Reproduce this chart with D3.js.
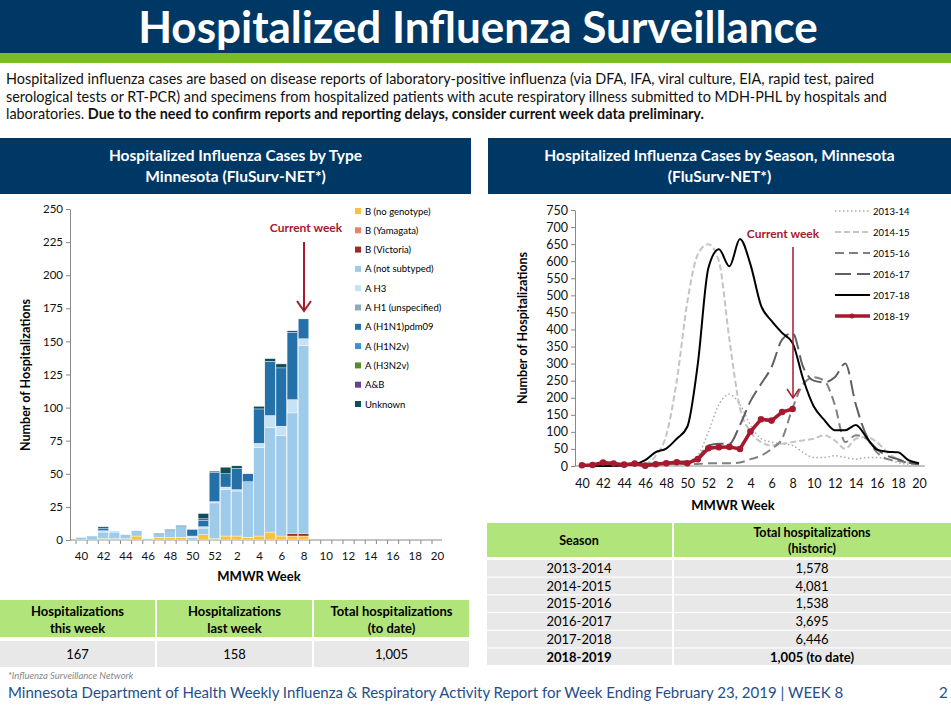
<!DOCTYPE html>
<html>
<head>
<meta charset="utf-8">
<script src="https://d3js.org/d3.v7.min.js"></script>
<style>
  body { margin: 0; background: #fff; font-family: Lato, "Open Sans", sans-serif; }
  svg text { font-family: Lato, "Open Sans", sans-serif; }
</style>
</head>
<body>
<script>
// ---- data ----
var weeks = [40,41,42,43,44,45,46,47,48,49,50,51,52,1,2,3,4,5,6,7,8,9,10,11,12,13,14,15,16,17,18,19,20];
var weekTicks = [40,42,44,46,48,50,52,2,4,6,8,10,12,14,16,18,20];

var typeNames = ["B (no genotype)","B (Yamagata)","B (Victoria)","A (not subtyped)","A H3","A H1 (unspecified)","A (H1N1)pdm09","A (H1N2v)","A (H3N2v)","A&B","Unknown"];
var typeColors = ["#f5c342","#e8836a","#9b2a2a","#9dcbe9","#c6e2f5","#8fa9b8","#2470a8","#3d8fd6","#5b8a2e","#6a3d9a","#0d4f58"];
// per-week values (weeks 40..8), one array per type
var bNoGeno   = [0,0,1,1,1,3,0,2,2,2,0,4,1,3,3,2,3,6,3,3,3];
var bYam      = [0,0,0,0,0,0,0,0,0,0,0,0,0,0,0,0,0,0,0,0,0];
var bVic      = [0,0,0,0,0,0,0,0,0,0,0,0,0,0,0,0,0,0,0,2,2];
var aNotSub   = [2,3,5,5,3,4,1,2,5,8,2,5,27,35,34,42,67,79,76,91,142];
var aH3       = [0,0,1,1,0,0,0,0,0,0,1,1,1,2,1,0,3,9,7,10,5];
var aH1       = [0,0,0,0,0,0,0,0,0,0,0,0,0,0,0,0,0,0,0,0,0];
var aPdm      = [0,0,2,0,0,0,0,1,1,1,5,5,22,10,16,6,26,41,44,51,15];
var aH1N2v    = [0,0,0,0,0,0,0,0,0,0,0,0,0,0,0,0,0,0,0,0,0];
var aH3N2v    = [0,0,0,0,0,0,0,0,0,0,0,0,0,0,0,0,0,0,0,0,0];
var aAndB     = [0,0,0,0,0,0,0,0,0,0,0,1,0,0,0,0,0,0,0,0,0];
var unknown   = [0,0,1,0,0,0,0,0,0,0,0,4,1,5,2,0,2,2,3,1,0];
var typeSeries = [bNoGeno,bYam,bVic,aNotSub,aH3,aH1,aPdm,aH1N2v,aH3N2v,aAndB,unknown];

var seasonNames = ["2013-14","2014-15","2015-16","2016-17","2017-18","2018-19"];
var s1314 = [0,0,0,0,0,2,3,3,5,5,10,30,100,180,210,180,120,80,70,65,60,40,25,25,30,25,20,25,25,20,10,5,3];
var s1415 = [0,0,0,0,0,0,5,30,90,250,480,620,650,600,370,170,100,70,60,65,70,75,80,90,75,50,80,85,70,40,20,10,5];
var s1516 = [3,3,3,3,4,4,5,5,5,6,6,6,8,8,8,10,20,30,50,80,170,240,260,250,180,70,90,80,40,20,15,10,5];
var s1617 = [2,2,3,3,4,5,6,8,10,12,15,25,60,65,65,120,190,240,290,370,390,290,250,245,260,300,180,90,50,30,20,10,5];
var s1718 = [0,0,0,0,2,5,17,41,51,80,115,300,580,635,585,665,590,470,425,390,360,255,175,135,105,105,120,85,48,42,40,17,8];
var s1819 = [2,3,10,7,4,7,1,5,8,11,8,20,52,55,56,50,101,137,133,158,167];
var seasonSeries = [s1314,s1415,s1516,s1617,s1718,s1819];

var statHeads = [["Hospitalizations","this week"],["Hospitalizations","last week"],["Total hospitalizations","(to date)"]];
var statVals = ["167","158","1,005"];
var histSeasons = ["2013-2014","2014-2015","2015-2016","2016-2017","2017-2018","2018-2019"];
var histTotals = ["1,578","4,081","1,538","3,695","6,446","1,005 (to date)"];

// ---- page ----
var navy = "#003865", green = "#78be20", tgreen = "#b2e47c", red = "#a6192e";
var svg = d3.select("body").append("svg").attr("width", 951).attr("height", 705);

svg.append("rect").attr("width", 951).attr("height", 53).attr("fill", navy);
svg.append("rect").attr("y", 53).attr("width", 951).attr("height", 10).attr("fill", green);
svg.append("text").attr("x", 478).attr("y", 43).attr("text-anchor", "middle")
  .attr("fill", "#fff").attr("font-size", 44).attr("font-weight", "bold").text("Hospitalized Influenza Surveillance");

var intro = svg.append("g").attr("font-size", 14.4).attr("fill", "#111");
intro.append("text").attr("x", 6).attr("y", 84).text("Hospitalized influenza cases are based on disease reports of laboratory-positive influenza (via DFA, IFA, viral culture, EIA, rapid test, paired");
intro.append("text").attr("x", 6).attr("y", 102).text("serological tests or RT-PCR) and specimens from hospitalized patients with acute respiratory illness submitted to MDH-PHL by hospitals and");
var l3 = intro.append("text").attr("x", 6).attr("y", 119);
l3.append("tspan").text("laboratories. ");
l3.append("tspan").attr("font-weight", "bold").text("Due to the need to confirm reports and reporting delays, consider current week data preliminary.");

function panelHead(x, w, lines) {
  svg.append("rect").attr("x", x).attr("y", 138).attr("width", w).attr("height", 56).attr("fill", navy);
  lines.forEach(function (t, i) {
    svg.append("text").attr("x", x + w / 2).attr("y", 161 + i * 21).attr("text-anchor", "middle")
      .attr("fill", "#fff").attr("font-size", 15.5).attr("font-weight", "bold").text(t);
  });
}
panelHead(0, 471, ["Hospitalized Influenza Cases by Type", "Minnesota (FluSurv-NET*)"]);
panelHead(488, 463, ["Hospitalized Influenza Cases by Season, Minnesota", "(FluSurv-NET*)"]);

// ---- left chart ----
var xL = d3.scaleLinear().domain([0, 32]).range([81, 437]);
var yL = d3.scaleLinear().domain([0, 250]).range([540, 209]);
var gl = svg.append("g").attr("font-size", 11);
var yAx = gl.append("g").attr("transform", "translate(70,0)")
  .call(d3.axisLeft(yL).tickValues(d3.range(0, 251, 25)).tickSize(4).tickSizeOuter(0));
var xAx = gl.append("g").attr("transform", "translate(0,540)")
  .call(d3.axisBottom(xL).tickValues(d3.range(0, 33)).tickSize(4).tickFormat(function (i) { return weekTicks.indexOf(weeks[i]) >= 0 ? weeks[i] : ""; }));
[yAx, xAx].forEach(function (a) {
  a.select(".domain").attr("stroke", "#888");
  a.selectAll(".tick line").attr("stroke", "#888");
  a.selectAll("text").attr("font-size", 11.5).attr("fill", "#111");
});
xAx.select(".domain").attr("d", "M70,0H442");
xAx.selectAll(".tick line").attr("transform", "translate(-5.5,0)");
xAx.selectAll("text").attr("dy", "1.1em");

var rows = s1819.map(function (t, i) {
  var o = { i: i };
  typeSeries.forEach(function (s, k) { o["k" + k] = s[i]; });
  return o;
});
var stack = d3.stack().keys(typeNames.map(function (d, k) { return "k" + k; }))(rows);
stack.forEach(function (layer, k) {
  gl.selectAll(null).data(layer.filter(function (d) { return d[1] > d[0]; })).enter().append("rect")
    .attr("x", function (d) { return xL(d.data.i) - 5.3; })
    .attr("width", 10.6)
    .attr("y", function (d) { return yL(d[1]); })
    .attr("height", function (d) { return yL(d[0]) - yL(d[1]); })
    .attr("fill", typeColors[k]).attr("stroke", "#fff").attr("stroke-width", 0.4);
});
gl.append("text").attr("transform", "translate(30,375) rotate(-90)").attr("text-anchor", "middle")
  .attr("font-size", 12.5).attr("font-weight", "bold").text("Number of Hospitalizations");
gl.append("text").attr("x", 259).attr("y", 581).attr("text-anchor", "middle")
  .attr("font-size", 13).attr("font-weight", "bold").text("MMWR Week");
gl.append("text").attr("x", 306).attr("y", 232).attr("text-anchor", "middle").attr("fill", red)
  .attr("font-size", 12).attr("font-weight", "bold").text("Current week");
gl.append("line").attr("x1", 304).attr("x2", 304).attr("y1", 242).attr("y2", 310).attr("stroke", red).attr("stroke-width", 2);
gl.append("path").attr("d", "M297,301L304,311L311,301").attr("fill", "none").attr("stroke", red).attr("stroke-width", 2);
typeNames.forEach(function (n, k) {
  var y = 212 + k * 19.3;
  gl.append("rect").attr("x", 355).attr("y", y - 4).attr("width", 6).attr("height", 6).attr("fill", typeColors[k]);
  gl.append("text").attr("x", 365).attr("y", y + 2.5).attr("font-size", 9.5).text(n);
});

// ---- right chart ----
var xR = d3.scaleLinear().domain([0, 32]).range([582, 919]);
var yR = d3.scaleLinear().domain([0, 750]).range([466, 210]);
var gr = svg.append("g");
var yAx2 = gr.append("g").attr("transform", "translate(575,0)")
  .call(d3.axisLeft(yR).tickValues(d3.range(0, 751, 50)).tickSize(4).tickSizeOuter(0));
var xAx2 = gr.append("g").attr("transform", "translate(0,466)")
  .call(d3.axisBottom(xR).tickValues(d3.range(0, 33)).tickSize(4).tickFormat(function (i) { return weekTicks.indexOf(weeks[i]) >= 0 ? weeks[i] : ""; }));
[yAx2, xAx2].forEach(function (a) {
  a.select(".domain").attr("stroke", "#888");
  a.selectAll(".tick line").attr("stroke", "#888");
  a.selectAll("text").attr("font-size", 12.5).attr("fill", "#111");
});
xAx2.select(".domain").attr("d", "M575,0H925");
xAx2.selectAll(".tick line").remove();
xAx2.selectAll("text").attr("dy", "1.2em");

var styles = [
  { c: "#aaa", w: 1.5, d: "1.5,2.5" },
  { c: "#c4c4c4", w: 2, d: "6,3" },
  { c: "#808080", w: 2, d: "9,5" },
  { c: "#606060", w: 2, d: "16,6" },
  { c: "#000", w: 2, d: null },
  { c: red, w: 3.5, d: null }
];
seasonSeries.forEach(function (s, k) {
  var line = d3.line().x(function (d, i) { return xR(i); }).y(function (d) { return yR(d); })
    .curve(k == 5 ? d3.curveLinear : d3.curveMonotoneX);
  gr.append("path").datum(s).attr("d", line).attr("fill", "none").attr("stroke", styles[k].c)
    .attr("stroke-width", styles[k].w).attr("stroke-dasharray", styles[k].d);
});
gr.selectAll(".dot").data(s1819).enter().append("circle")
  .attr("cx", function (d, i) { return xR(i); }).attr("cy", function (d) { return yR(d); })
  .attr("r", 3.3).attr("fill", red);

seasonNames.forEach(function (n, k) {
  var y = 211 + k * 21;
  gr.append("line").attr("x1", 835).attr("x2", 870).attr("y1", y).attr("y2", y).attr("stroke", styles[k].c)
    .attr("stroke-width", styles[k].w).attr("stroke-dasharray", styles[k].d);
  if (k == 5) gr.append("circle").attr("cx", 852).attr("cy", y).attr("r", 2.5).attr("fill", red);
  gr.append("text").attr("x", 873).attr("y", y + 3.5).attr("font-size", 9.5).text(n);
});
gr.append("text").attr("x", 783).attr("y", 238).attr("text-anchor", "middle").attr("fill", red)
  .attr("font-size", 12).attr("font-weight", "bold").text("Current week");
gr.append("line").attr("x1", 793).attr("x2", 793).attr("y1", 247).attr("y2", 398).attr("stroke", red).attr("stroke-width", 1.5);
gr.append("path").attr("d", "M787,389L793,398L799,389").attr("fill", "none").attr("stroke", red).attr("stroke-width", 1.5);
gr.append("text").attr("transform", "translate(527,328) rotate(-90)").attr("text-anchor", "middle")
  .attr("font-size", 12.5).attr("font-weight", "bold").text("Number of Hospitalizations");
gr.append("text").attr("x", 733).attr("y", 510).attr("text-anchor", "middle")
  .attr("font-size", 13).attr("font-weight", "bold").text("MMWR Week");

// ---- left table ----
var colW = 155;
statHeads.forEach(function (h, i) {
  var x = i * (colW + 2);
  svg.append("rect").attr("x", x).attr("y", 600).attr("width", colW).attr("height", 37).attr("fill", tgreen);
  h.forEach(function (t, j) {
    svg.append("text").attr("x", x + colW / 2).attr("y", 616 + j * 17).attr("text-anchor", "middle")
      .attr("font-size", 13).attr("font-weight", "bold").text(t);
  });
  svg.append("rect").attr("x", x).attr("y", 641).attr("width", colW).attr("height", 26).attr("fill", "#e8e8e8");
  svg.append("text").attr("x", x + colW / 2).attr("y", 659).attr("text-anchor", "middle").attr("font-size", 13).text(statVals[i]);
});

// ---- right table ----
svg.append("rect").attr("x", 487).attr("y", 523).attr("width", 185).attr("height", 34).attr("fill", tgreen);
svg.append("rect").attr("x", 674).attr("y", 523).attr("width", 277).attr("height", 34).attr("fill", tgreen);
svg.append("text").attr("x", 579).attr("y", 545).attr("text-anchor", "middle").attr("font-size", 12.5).attr("font-weight", "bold").text("Season");
svg.append("text").attr("x", 812).attr("y", 537).attr("text-anchor", "middle").attr("font-size", 12.5).attr("font-weight", "bold").text("Total hospitalizations");
svg.append("text").attr("x", 812).attr("y", 553).attr("text-anchor", "middle").attr("font-size", 12.5).attr("font-weight", "bold").text("(historic)");
histSeasons.forEach(function (s, i) {
  var y = 560 + i * 17.7;
  var b = i == 5 ? "bold" : "normal";
  svg.append("rect").attr("x", 487).attr("y", y).attr("width", 185).attr("height", 16.5).attr("fill", "#e8e8e8");
  svg.append("rect").attr("x", 674).attr("y", y).attr("width", 277).attr("height", 16.5).attr("fill", "#e8e8e8");
  svg.append("text").attr("x", 579).attr("y", y + 13).attr("text-anchor", "middle").attr("font-size", 13).attr("font-weight", b).text(s);
  svg.append("text").attr("x", 812).attr("y", y + 13).attr("text-anchor", "middle").attr("font-size", 13).attr("font-weight", b).text(histTotals[i]);
});

// ---- footer ----
svg.append("text").attr("x", 8).attr("y", 679).attr("font-size", 9.5).attr("font-style", "italic").attr("fill", "#888").text("*Influenza Surveillance Network");
svg.append("text").attr("x", 8).attr("y", 698).attr("font-size", 15).attr("fill", "#1f4e8c")
  .text("Minnesota Department of Health Weekly Influenza & Respiratory Activity Report for Week Ending February 23, 2019 | WEEK 8");
svg.append("text").attr("x", 939).attr("y", 698).attr("font-size", 15).attr("fill", "#1f4e8c").text("2");
</script>
</body>
</html>
